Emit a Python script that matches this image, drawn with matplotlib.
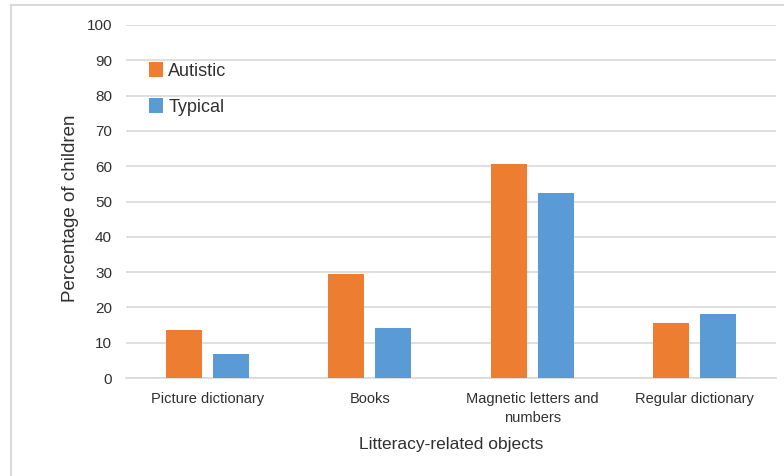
import numpy as np
import matplotlib
matplotlib.use("Agg")
import matplotlib.pyplot as plt
from matplotlib.lines import Line2D

plt.rcParams.update({"font.family": ["Liberation Sans", "DejaVu Sans"]})

categories = ["Picture dictionary", "Books", "Magnetic letters and\nnumbers",
              "Regular dictionary"]
autistic = [13.6, 29.5, 60.7, 15.6]
typical = [6.8, 14.1, 52.4, 18.2]
yticks = list(range(0, 101, 10))

ORANGE = "#ED7D31"
BLUE = "#5B9BD5"
GRID = "#D9D9D9"
TXT = "#303030"

W, H = 784, 476
fig = plt.figure(figsize=(W / 100, H / 100), dpi=100)
ax = fig.add_axes([126 / W, 1 - 378 / H, 650 / W, 353 / H])

x = np.arange(len(categories))
w = 0.222
gap = 0.068
ax.bar(x - (w + gap) / 2, autistic, w, color=ORANGE, label="Autistic", zorder=3)
ax.bar(x + (w + gap) / 2, typical, w, color=BLUE, label="Typical", zorder=3)

ax.set_xlim(-0.5, len(categories) - 0.5)
ax.set_ylim(0, 100)
ax.set_yticks(yticks)
ax.yaxis.grid(True, color=GRID, lw=1.2, zorder=0)
ax.set_axisbelow(True)
for s in ("top", "right", "left"):
    ax.spines[s].set_visible(False)
ax.spines["bottom"].set_color(GRID)
ax.spines["bottom"].set_linewidth(1.2)
ax.tick_params(axis="both", length=0, colors=TXT)
ax.tick_params(axis="y", pad=10, labelsize=11)
ax.tick_params(axis="x", pad=10, labelsize=10.5)
ax.set_xticks(x)
ax.set_xticklabels(categories, linespacing=1.5)

ax.set_ylabel("Percentage of children", fontsize=13.5, color=TXT, va="center")
ax.yaxis.set_label_coords(-0.086, 0.48)
ax.set_xlabel("Litteracy-related objects", fontsize=12.5, color=TXT, labelpad=8)

ax.legend(loc="upper left", bbox_to_anchor=(0.011, 0.94), frameon=False,
          handlelength=0.75, handleheight=0.9, handletextpad=0.3,
          labelspacing=1.0, fontsize=13, labelcolor=TXT)

# chart area border (left and top edges)
fig.add_artist(Line2D([10.5 / W, 10.5 / W], [0, 1 - 4.5 / H],
                      color="#D9D9D9", lw=1.5))
fig.add_artist(Line2D([10.5 / W, 1], [1 - 4.5 / H, 1 - 4.5 / H],
                      color="#D9D9D9", lw=1.5))

fig.savefig("out.png", dpi=100)
